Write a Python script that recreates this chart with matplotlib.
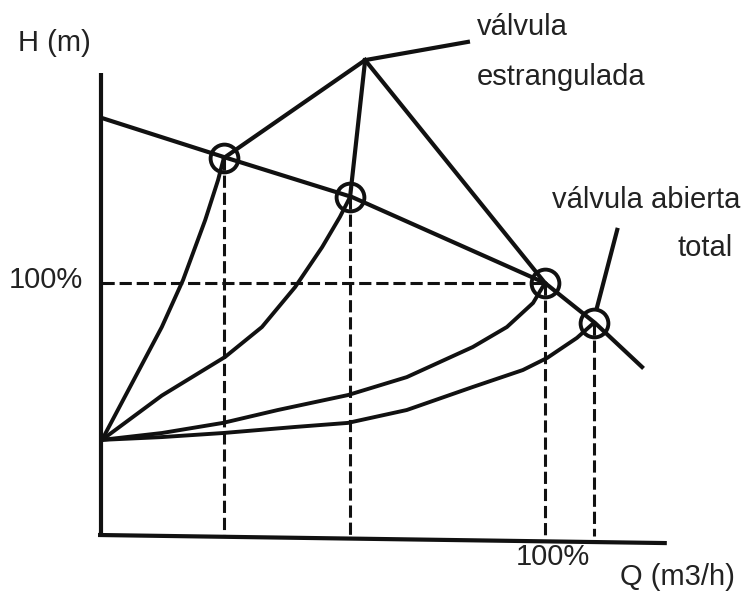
import matplotlib
matplotlib.use("Agg")
import matplotlib.pyplot as plt

plt.rcParams['font.family'] = ['Liberation Sans', 'DejaVu Sans']

# Pump curve (Q %, H %)
pump_q = [0, 28.2, 56.4, 100, 111.3, 121.9]
pump_h = [165.2, 149.4, 134.0, 100, 84.2, 66.8]

# Operating points
op_q = [27.5, 56.0, 100.0, 111.0]
op_h = [149.4, 134.0, 100.0, 84.2]

# System curves (throttled -> fully open)
sys1_q = [0, 5.6, 13.5, 18.3, 23.3, 26.2, 27.5]
sys1_h = [38, 56.5, 82.6, 101.2, 124.9, 140.7, 149.4]
sys2_q = [0, 13.5, 27.8, 36.1, 43.6, 49.7, 53.7, 56.0]
sys2_h = [38, 55.5, 70.8, 82.6, 98.4, 114.2, 126.1, 134.0]
sys3_q = [0, 13.5, 27.3, 39.7, 55.5, 68.8, 83.7, 91.4, 97.3, 100.0]
sys3_h = [38, 40.7, 44.7, 49.8, 55.7, 62.8, 74.7, 82.6, 92.1, 100.0]
sys4_q = [0, 13.5, 27.3, 43.6, 55.5, 68.8, 83.7, 95.0, 100.5, 107.2, 111.0]
sys4_h = [38, 39.1, 40.7, 43.1, 44.7, 49.8, 58.9, 65.6, 70.4, 78.3, 84.2]

# Throttling construction lines (peak of "válvula estrangulada")
peak_q, peak_h = 59.4, 188.1
leader1_q = [59.4, 82.6]
leader1_h = [188.1, 195.3]
leader2_q = [116.3, 111.7]
leader2_h = [121.0, 90.1]

labels = {"h_axis": "H (m)", "q_axis": "Q (m3/h)", "pct": "100%",
          "estr1": "válvula", "estr2": "estrangulada",
          "ab1": "válvula abierta", "ab2": "total"}

fig = plt.figure(figsize=(7.51, 5.99), dpi=100)
ax = fig.add_axes([0, 0, 1, 1])
ax.set_xlim(-102 / 4.43, (751 - 102) / 4.43)
ax.set_ylim((536 - 599) / 2.53, 536 / 2.53)
ax.axis('off')

K = '#111111'
# axes
ax.plot([-0.23, -0.23], [183, -0.4], color=K, lw=3, solid_capstyle='butt')
ax.plot([-0.9, 127.5], [0.4, -2.8], color=K, lw=3, solid_capstyle='butt')

# dashed guides
dash = (0, (4, 1.6))
ax.plot([0, op_q[2]], [100, 100], color=K, lw=2.2, ls=dash)
for q, h in zip(op_q, op_h):
    ax.plot([q, q], [h, 0], color=K, lw=2.2, ls=dash)

# system curves
for qs, hs in [(sys1_q, sys1_h), (sys2_q, sys2_h), (sys3_q, sys3_h), (sys4_q, sys4_h)]:
    ax.plot(qs, hs, color=K, lw=2.8, solid_joinstyle='round')

# pump curve
ax.plot(pump_q, pump_h, color=K, lw=3, solid_joinstyle='round')

# throttling lines
for i in range(3):
    ax.plot([op_q[i], peak_q], [op_h[i], peak_h], color=K, lw=3)
ax.plot(leader1_q, leader1_h, color=K, lw=3)
ax.plot(leader2_q, leader2_h, color=K, lw=3)

# operating point circles
ax.plot(op_q, op_h, ls='none', marker='o', ms=20, mfc='none', mec=K, mew=2.8)

fs = 21
tc = '#222222'
ax.text(-19.0, 194.9, labels["h_axis"], fontsize=fs, color=tc, ha='left', va='center')
ax.text(-4.2, 101.0, labels["pct"], fontsize=fs, color=tc, ha='right', va='center')
ax.text(101.8, -8.3, labels["pct"], fontsize=fs, color=tc, ha='center', va='center')
ax.text(116.9, -16.2, labels["q_axis"], fontsize=fs, color=tc, ha='left', va='center')
ax.text(84.7, 201.2, labels["estr1"], fontsize=fs, color=tc, ha='left', va='center')
ax.text(84.7, 181.4, labels["estr2"], fontsize=fs, color=tc, ha='left', va='center')
ax.text(101.6, 132.8, labels["ab1"], fontsize=fs, color=tc, ha='left', va='center')
ax.text(130.0, 113.8, labels["ab2"], fontsize=fs, color=tc, ha='left', va='center')

fig.savefig("out.png", dpi=100)
